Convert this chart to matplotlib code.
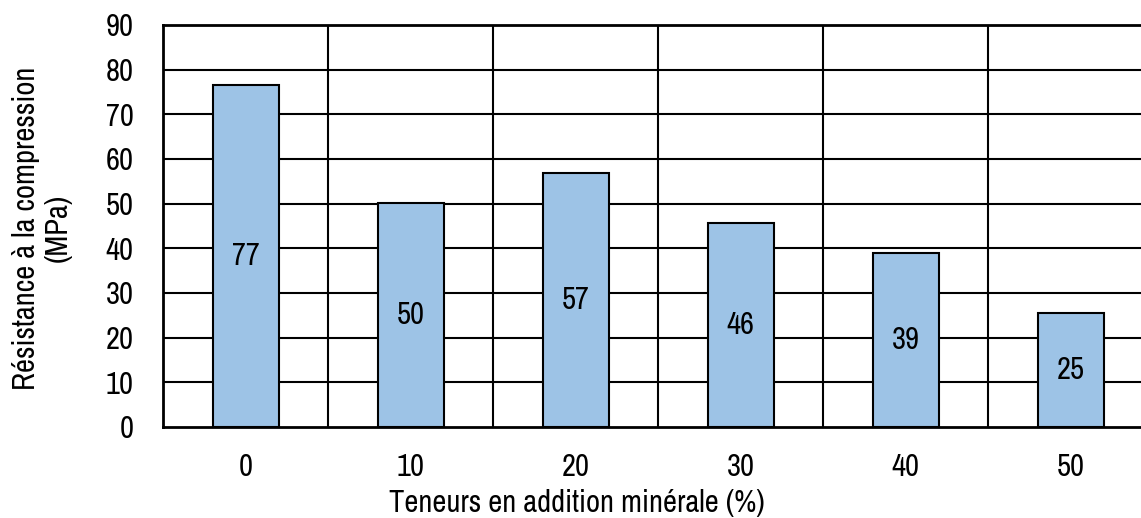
import matplotlib
matplotlib.use("Agg")
import matplotlib.pyplot as plt
from matplotlib import font_manager

categories = ["0", "10", "20", "30", "40", "50"]
values = [76.6, 50.1, 56.9, 45.7, 38.9, 25.5]
labels = ["77", "50", "57", "46", "39", "25"]
yticks = [0, 10, 20, 30, 40, 50, 60, 70, 80, 90]

names = {f.name for f in font_manager.fontManager.ttflist}
fam = [n for n in ["Liberation Sans Narrow", "Archivo Narrow", "Roboto Condensed", "Liberation Sans"] if n in names][:1]
plt.rcParams["font.family"] = fam + ["DejaVu Sans"]
FS = 22

fig = plt.figure(figsize=(11.41, 5.18), dpi=100)
ax = fig.add_axes([163/1141, (518-427)/518, 990/1141, 402/518])

x = list(range(len(categories)))
ax.bar(x, values, width=0.4, color="#9DC3E6", edgecolor="black", linewidth=1.5, zorder=3)
for xi, v, lab in zip(x, values, labels):
    ax.text(xi, v/2, lab, ha="center", va="center", fontsize=FS, zorder=4)

ax.set_xlim(-0.5, 5.5)
ax.set_ylim(0, 90)
ax.set_yticks(yticks)
ax.set_yticklabels([str(t) for t in yticks], fontsize=FS)
ax.set_xticks(x)
ax.set_xticklabels(categories, fontsize=FS)
ax.tick_params(axis="both", length=0)
ax.tick_params(axis="y", pad=21)
ax.tick_params(axis="x", pad=19)

for t in yticks[1:]:
    ax.axhline(t, color="black", linewidth=1.5, zorder=1)
for b in [0.5, 1.5, 2.5, 3.5, 4.5]:
    ax.axvline(b, color="black", linewidth=1.5, zorder=1)
for s in ax.spines.values():
    s.set_linewidth(2)
    s.set_color("black")

fig.text(577/1141, 1-503/518, "Teneurs en addition minérale (%)", ha="center", va="center", fontsize=FS)
fig.text(42/1141, 1-228/518, "Résistance à la compression\n(MPa)", ha="center", va="center",
         rotation=90, fontsize=FS, linespacing=1.15)

fig.savefig("out.png", dpi=100)
